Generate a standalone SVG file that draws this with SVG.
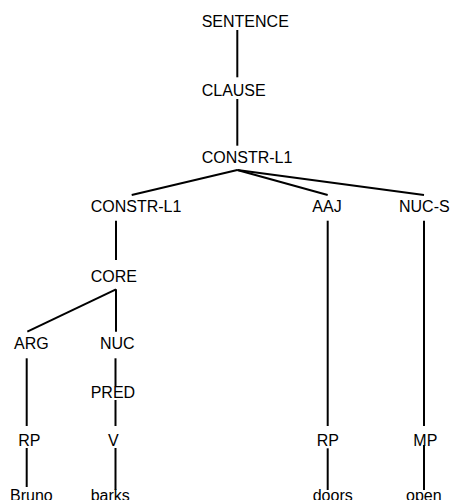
<svg xmlns="http://www.w3.org/2000/svg" width="450" height="500" viewBox="0 0 450 500">
<style>
text{font-family:"Liberation Sans",Arial,sans-serif;font-size:16px;fill:#000}
line{stroke:#000;stroke-width:2}
</style>
<rect width="450" height="500" fill="#fff"/>
<g id="connectors">
<line x1="237.3" y1="30" x2="237.3" y2="77.3"/>
<line x1="237.3" y1="99" x2="237.3" y2="145.7"/>
<line x1="237.3" y1="170" x2="131.7" y2="195"/>
<line x1="237.3" y1="170" x2="327.7" y2="195"/>
<line x1="237.3" y1="170" x2="424" y2="195"/>
<line x1="116" y1="220.7" x2="116" y2="260"/>
<line x1="116" y1="289.3" x2="27.3" y2="331.7"/>
<line x1="116" y1="289.3" x2="116" y2="331.7"/>
<line x1="26.7" y1="358.3" x2="26.7" y2="426"/>
<line x1="115.5" y1="358.3" x2="115.5" y2="386"/>
<line x1="115.5" y1="400" x2="115.5" y2="426"/>
<line x1="26.7" y1="448" x2="26.7" y2="487"/>
<line x1="115.5" y1="448" x2="115.5" y2="490"/>
<line x1="327.7" y1="220.7" x2="327.7" y2="426"/>
<line x1="424" y1="220.7" x2="424" y2="426"/>
<line x1="327.7" y1="448.3" x2="327.7" y2="490"/>
<line x1="424" y1="445" x2="424" y2="490"/>
</g>
<g id="n-sentence"><text x="201.7" y="26.7">SENTENCE</text></g>
<g id="n-clause"><text x="201.7" y="95.7">CLAUSE</text></g>
<g id="n-constr-top"><text x="201.7" y="163.3">CONSTR-L1</text></g>
<g id="n-constr-left"><text x="90.7" y="212.3">CONSTR-L1</text></g>
<g id="n-aaj"><text x="312.3" y="212.3">AAJ</text></g>
<g id="n-nucs"><text x="399" y="212.3">NUC-S</text></g>
<g id="n-core"><text x="90.7" y="281.7">CORE</text></g>
<g id="n-arg"><text x="14" y="349.3">ARG</text></g>
<g id="n-nuc"><text x="100" y="349.3">NUC</text></g>
<g id="n-pred"><text x="90.7" y="398.3">PRED</text></g>
<g id="n-rp1"><text x="18.3" y="446">RP</text></g>
<g id="n-v"><text x="108" y="446">V</text></g>
<g id="n-rp2"><text x="316.7" y="446">RP</text></g>
<g id="n-mp"><text x="413.3" y="446">MP</text></g>
<g id="n-bruno"><text x="10" y="500.5">Bruno</text></g>
<g id="n-barks"><text x="90.7" y="500.5">barks</text></g>
<g id="n-doors"><text x="312.7" y="500.5">doors</text></g>
<g id="n-open"><text x="406" y="500.5">open</text></g>
</svg>
